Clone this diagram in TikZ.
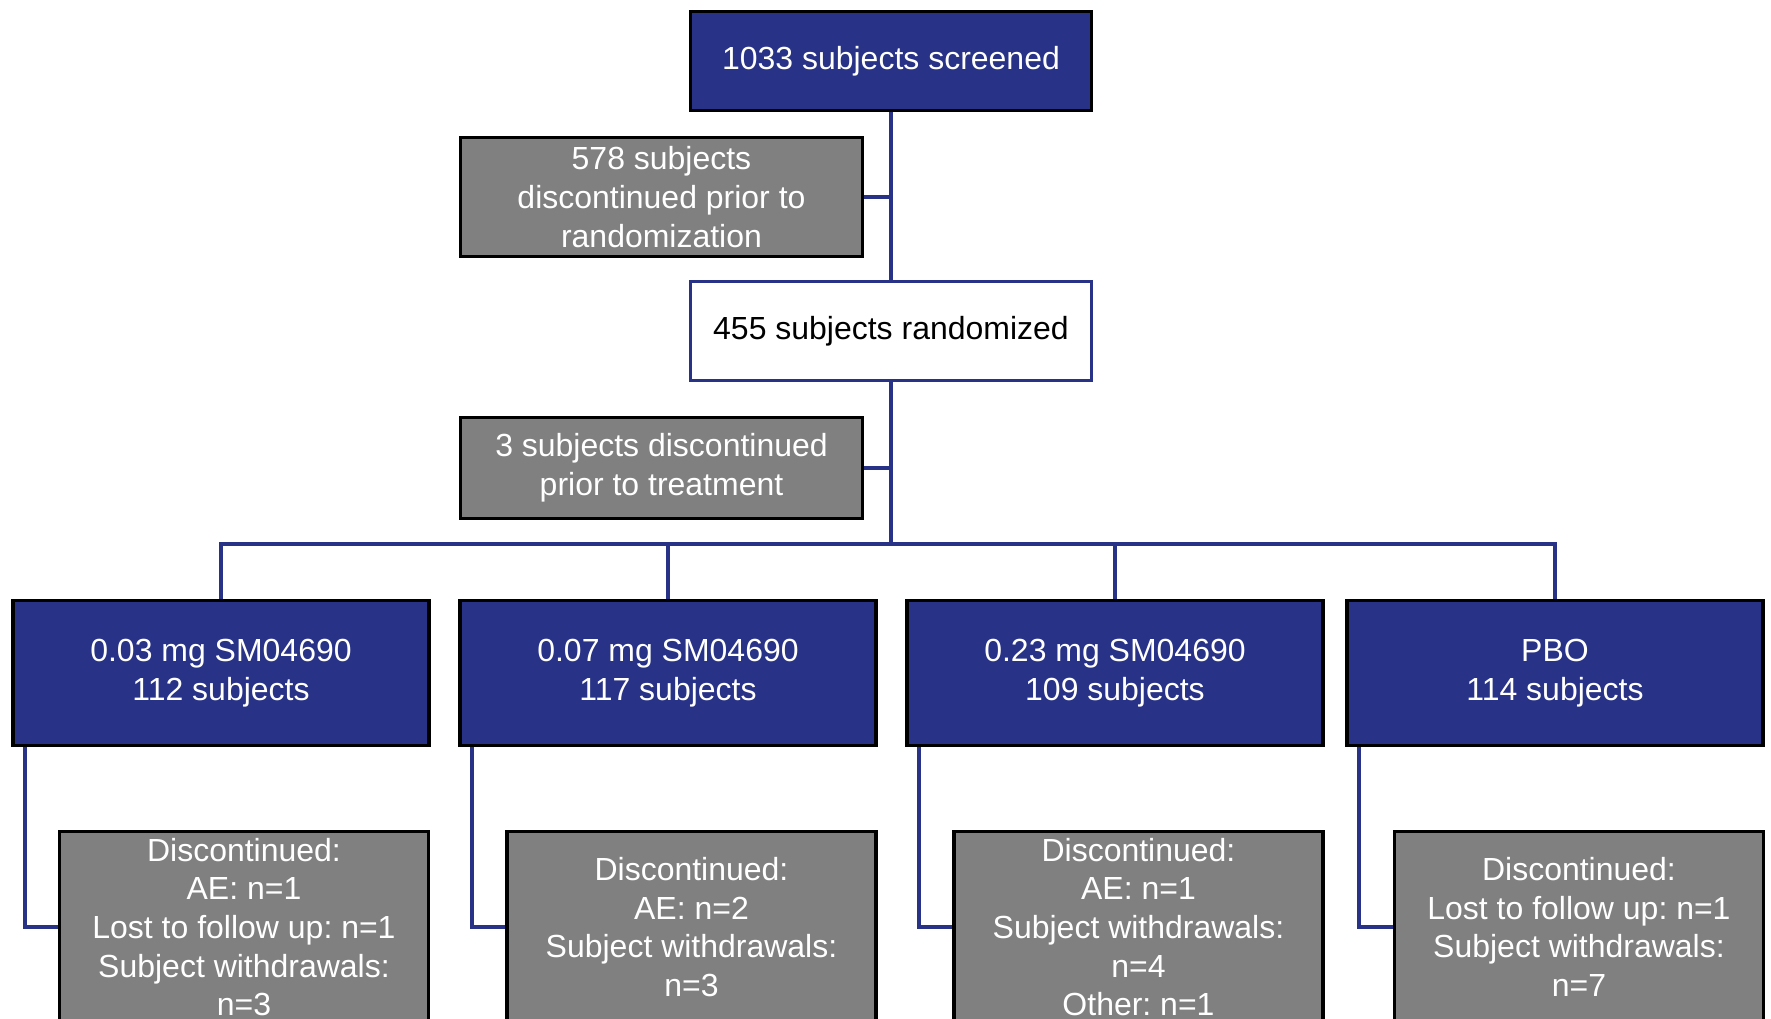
\documentclass[tikz,border=0pt]{standalone}
\usepackage{fontspec}
\setmainfont{Liberation Sans}
\usepackage{xcolor}
\usepackage{tikz}
\usetikzlibrary{calc}
\definecolor{armblue}{RGB}{40,50,135}
\definecolor{boxgrey}{RGB}{128,128,128}
\frenchspacing

\begin{document}
\begin{tikzpicture}[font=\fontsize{9.1pt}{11pt}\selectfont,
  bluebox/.style={draw=black, line width=1.1pt, fill=armblue, text=white, align=center, inner sep=0pt},
  greybox/.style={draw=black, line width=1.1pt, fill=boxgrey, text=white, align=center, inner sep=0pt},
  whitebox/.style={draw=armblue, line width=1.1pt, fill=white, text=black, align=center, inner sep=0pt},
  link/.style={draw=armblue, line width=1pt}]
  \clip (0,0) rectangle (17.71,10.19);
  % screening and randomization
  \node[bluebox, minimum width=4.01cm, minimum height=0.99cm] (screened) at (8.91,9.58) {1033 subjects screened};
  \node[greybox, minimum width=4.02cm, minimum height=1.19cm] (priorrand) at (6.615,8.22) {578 subjects\\discontinued prior to\\randomization};
  \node[whitebox, minimum width=4.01cm, minimum height=0.99cm] (randomized) at (8.91,6.88) {455 subjects randomized};
  \node[greybox, minimum width=4.02cm, minimum height=1.01cm] (priortreat) at (6.615,5.51) {3 subjects discontinued\\prior to treatment};
  \coordinate (split) at (8.91,4.75);
  % treatment arms
  \node[bluebox, minimum width=4.16cm, minimum height=1.45cm] (arm1) at (2.21,3.46) {0.03 mg SM04690\\112 subjects};
  \node[bluebox, minimum width=4.16cm, minimum height=1.45cm] (arm2) at (6.68,3.46) {0.07 mg SM04690\\117 subjects};
  \node[bluebox, minimum width=4.16cm, minimum height=1.45cm] (arm3) at (11.15,3.46) {0.23 mg SM04690\\109 subjects};
  \node[bluebox, minimum width=4.16cm, minimum height=1.45cm] (arm4) at (15.55,3.46) {PBO\\114 subjects};
  % discontinuations per arm
  \node[greybox, minimum width=3.69cm, minimum height=1.91cm] (out1) at (2.44,0.92) {Discontinued:\\AE: n=1\\Lost to follow up: n=1\\Subject withdrawals:\\n=3};
  \node[greybox, minimum width=3.69cm, minimum height=1.91cm] (out2) at (6.915,0.92) {Discontinued:\\AE: n=2\\Subject withdrawals:\\n=3};
  \node[greybox, minimum width=3.69cm, minimum height=1.91cm] (out3) at (11.385,0.92) {Discontinued:\\AE: n=1\\Subject withdrawals:\\n=4\\Other: n=1};
  \node[greybox, minimum width=3.69cm, minimum height=1.91cm] (out4) at (15.79,0.92) {Discontinued:\\Lost to follow up: n=1\\Subject withdrawals:\\n=7};
  % connectors
  \draw[link] (screened) -- (randomized);
  \draw[link] (priorrand.east) -- (priorrand.east -| screened);
  \draw[link] (randomized) -- (split);
  \draw[link] (priortreat.east) -- (priortreat.east -| randomized);
  \draw[link] (arm1.north) |- (split) -| (arm4.north);
  \draw[link] (arm2.north) -- (arm2.north |- split);
  \draw[link] (arm3.north) -- (arm3.north |- split);
  \foreach \i in {1,...,4}
    \draw[link] ([xshift=0.14cm]arm\i.south west) |- (out\i.west);
\end{tikzpicture}
\end{document}
